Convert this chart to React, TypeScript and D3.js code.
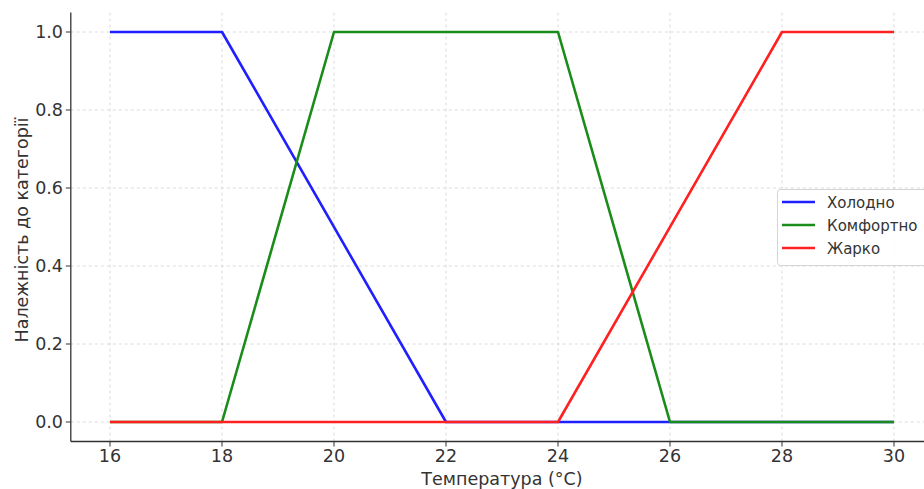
import React from "react";
import * as d3 from "d3";

const xTicks = [16, 18, 20, 22, 24, 26, 28, 30];
const yTicks = [0.0, 0.2, 0.4, 0.6, 0.8, 1.0];
const coldX = [16, 18, 22, 30];
const coldY = [1, 1, 0, 0];
const comfortX = [16, 18, 20, 24, 26, 30];
const comfortY = [0, 0, 1, 1, 0, 0];
const hotX = [16, 24, 28, 30];
const hotY = [0, 0, 1, 1];
const seriesNames = ["Холодно", "Комфортно", "Жарко"];
const colors = ["#1f1fff", "#1a8c1a", "#ff2020"];

export default function App() {
  const W = 924, H = 489;
  const x = d3.scaleLinear().domain([15.3, 30.7]).range([70.8, 933.2]);
  const y = d3.scaleLinear().domain([-0.05, 1.05]).range([441.5, 12.5]);
  const line = d3.line<[number, number]>().x(d => x(d[0])).y(d => y(d[1]));
  const series = [
    coldX.map((v, i) => [v, coldY[i]] as [number, number]),
    comfortX.map((v, i) => [v, comfortY[i]] as [number, number]),
    hotX.map((v, i) => [v, hotY[i]] as [number, number]),
  ];
  const font = "DejaVu Sans, sans-serif";
  const tc = "#333";
  return (
    <svg width={W} height={H} style={{ position: "absolute", left: 0, top: 0, background: "#fff" }}>
      <rect width={W} height={H} fill="#fff" />
      {xTicks.map(t => (
        <line key={"gx" + t} x1={x(t)} x2={x(t)} y1={12.5} y2={441.5} stroke="#d0d0d0" strokeDasharray="3,3" strokeWidth={0.8} />
      ))}
      {yTicks.map(t => (
        <line key={"gy" + t} x1={70.8} x2={933} y1={y(t)} y2={y(t)} stroke="#d0d0d0" strokeDasharray="3,3" strokeWidth={0.8} />
      ))}
      {series.map((s, i) => (
        <path key={i} d={line(s) || ""} fill="none" stroke={colors[i]} strokeWidth={2.6} strokeLinejoin="round" />
      ))}
      <line x1={70.8} x2={70.8} y1={12.5} y2={441.5} stroke="#333" strokeWidth={1.3} />
      <line x1={70.8} x2={933} y1={441.5} y2={441.5} stroke="#333" strokeWidth={1.3} />
      {xTicks.map(t => (
        <g key={"xt" + t}>
          <line x1={x(t)} x2={x(t)} y1={441.5} y2={446.5} stroke="#333" />
          <text x={x(t)} y={462} textAnchor="middle" fontFamily={font} fontSize={17.5} fill={tc}>{t}</text>
        </g>
      ))}
      {yTicks.map(t => (
        <g key={"yt" + t}>
          <line x1={65.8} x2={70.8} y1={y(t)} y2={y(t)} stroke="#333" />
          <text x={63} y={y(t) + 6.3} textAnchor="end" fontFamily={font} fontSize={17.5} fill={tc}>{t.toFixed(1)}</text>
        </g>
      ))}
      <text x={502} y={485} textAnchor="middle" fontFamily={font} fontSize={17.5} fill={tc}>Температура (°C)</text>
      <text transform="translate(28,230) rotate(-90)" textAnchor="middle" fontFamily={font} fontSize={17.5} fill={tc}>Належність до категорії</text>
      <g>
        <rect x={777.5} y={189.5} width={160} height={76} rx={3} fill="#fff" fillOpacity={0.9} stroke="#d5d5d5" />
        {seriesNames.map((n, i) => (
          <g key={n}>
            <line x1={782} x2={815} y1={202 + i * 23} y2={202 + i * 23} stroke={colors[i]} strokeWidth={2.6} />
            <text x={827} y={207.5 + i * 23} fontFamily={font} fontSize={15} fill={tc}>{n}</text>
          </g>
        ))}
      </g>
    </svg>
  );
}
